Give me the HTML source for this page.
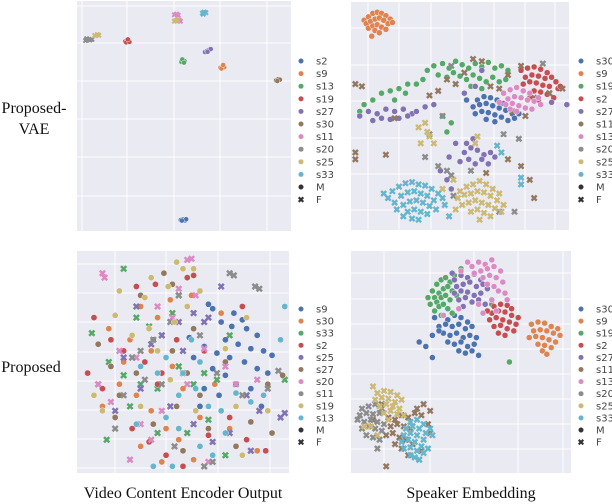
<!DOCTYPE html>
<html><head><meta charset="utf-8">
<style>
html,body{margin:0;padding:0;background:#fff;}
svg{display:block;}
.lbl{font-family:"Liberation Serif",serif;font-size:16px;fill:#111;}
.leg{font-family:"DejaVu Sans","Liberation Sans",sans-serif;font-size:10px;fill:#444;}
</style></head>
<body>
<svg id="chart" width="612" height="504" viewBox="0 0 612 504" xmlns="http://www.w3.org/2000/svg">
<text class="lbl" x="34" y="113" text-anchor="middle">Proposed-</text>
<text class="lbl" x="34" y="134" text-anchor="middle">VAE</text>
<text class="lbl" x="31" y="372" text-anchor="middle">Proposed</text>
<text class="lbl" x="183" y="498" text-anchor="middle">Video Content Encoder Output</text>
<text class="lbl" x="471" y="498" text-anchor="middle">Speaker Embedding</text>
</svg>
<script>
const colors = ['#4c72b0','#dd8452','#55a868','#c44e52','#8172b3','#937860','#da8bc3','#8c8c8c','#ccb974','#64b5cd'];

// ---- Panel TL: Proposed-VAE / video content
const tlSpeakers = ['s2','s9','s13','s19','s27','s30','s11','s20','s25','s33'];
const tlGender = ['M','M','M','M','M','M','F','F','F','F'];
const tlPoints = [
 [48.5,4.8,49.5,5.0,50.5,4.6,51,5.1,49,4.5],
 [67,71,68,71.8,68.8,71.2,67.5,70.6,68.3,72.2],
 [48.8,73.5,49.6,74.3,50.3,73.8,49.2,74.6,50,73.2],
 [22.5,82.4,23.3,83,24.2,82.8,23,82,24.5,82.2,23.8,83.3],
 [59.8,77.8,60.8,78.3,61.8,78.8,62.5,79.1,61,77.9],
 [93,65.5,94,66,94.8,65.8,93.6,65.2],
 [45.5,94,46.5,94.3,47.3,93.8,47.8,91.6,48.3,91.2],
 [4,82.8,5,83.2,6,83,7,83.3,4.5,83.6],
 [8.3,85,9.5,85.4,10.2,85.1,46.2,91.5,47,91.9,45.5,91.2],
 [58.6,94.7,59.4,95.2,60.2,94.9,59,94.3]
];

// ---- Panel TR: Proposed-VAE / speaker embedding
const trSpeakers = ['s30','s9','s19','s2','s27','s11','s13','s20','s25','s33'];
const trGender = ['M','M','M','M','M','F','M','F','F','F'];
const trPoints = [
 [58,57,61,58.5,64,58,67,57,70,55.5,56,54,59,55,62,55.5,65,54.5,68,53.5,71,52.5,74,51,57,51,60,52,63,51.5,66,50.5,69,49.5,72,48,62,48.5,66,47.5,75,49,77,51,53,57],
 [6,92,8,93.5,10,95,12,95.5,14,95,16,94,18,92.5,7,90.5,9,91.5,11,92.5,13,93,15,92,17,90.5,8,88.5,10,89.5,12,90,14,89,16,88,11,87.5,13,86.5,9.5,85,19,91],
 [35,70,38,72,42,73,45,71,48,74,51,72.5,54,71,57,73,60,71.5,63,73.5,66,71,69,72,72,70,40,68,44,67,47,69,50,67.5,53,66,56,68,59,66.5,62,65,65,67,68,65,71,66,55,63,60,62,33,66,30,64,26,64,22,62,18,61,14,60,10,57,6,55,4,52,20,57,25,60,42,50,46,47,44,43],
 [78,70,81,71,84,71.5,87,70.5,90,69,80,67,83,68,86,67.5,89,66.5,92,67,94,65,79,64,82,65,85,64.5,88,63.5,91,63,95,62,84,61,87,60.5,90,59.5,93,58,82,58,86,57,96,63],
 [4,50,8,52,12,51,16,53,20,52,24,53,28,51,10,48,14,49,18,48.5,22,49,26,50,30,52,34,54,38,55,52,34,55,36,58,35,61,33,64,34,66,32,50,30,54,31,57,29,60,31,63,29,53,38,56,40,48,38,45,32,41,26,44,22,46,18,60,70,57,63,52,60,99,55,92,56],
 [2,64,5,63,36,59,40,61,44,66,48,64,52,69,56,75,60,74,64,63,68,62,72,68,78,72,84,58,91,60,97,62,74,52,80,50,2,34,2,31,20,49,62,25,72,31,78,28,82,22,84,14,16,33],
 [70,60,73,61.5,76,62.5,79,61,82,60,72,57.5,75,58.5,78,58,81,57,84,56.5,87,55,71,55,74,55.5,77,54.5,80,53.5,76,52,83,53,68,56,86,58,73,53],
 [46,72,42,50,34,32,40,28,44,26,46,24,36,42,68,8,75,8,47,15,55,26,70,42,77,40,88,73],
 [50,17,53,19,56,20,59,21.5,62,20,65,18,68,16,49,14,52,15.5,55,16,58,17,61,16.5,64,15,67,13,70,11,51,11,54,12,57,13,60,12,63,11,66,9.5,69,8,55,8,58,9,61,7.5,64,6,59,4.5,48,9,31,45,34,47,36,41,38,38,32,38,35,43,42,18,47,22,57,38,58,41],
 [17,14,19,17,22,19,25,20.5,28,21,31,20,34,19.5,37,18,40,16,20,12,23,15,26,16.5,29,17,32,16,35,15,38,13,42,14,21,9,24,11,27,12.5,30,13,33,12,36,10.5,39,9,26,8,29,9,32,8,35,7,28,5,31,4.5,24,6,43,11,15,16,45,6,67,37,69,34,78,20,78,23]
];

// ---- Panel BL: Proposed / video content
const blSpeakers = ['s9','s30','s33','s2','s25','s27','s20','s11','s19','s13'];
const blGender = ['M','M','F','M','F','M','F','F','M','M'];
const blPoints = [
 [62,76,64,74,74,72,78,69,68,68,73,66,80,65,85,62,70,60,76,58,82,56,88,55,60,57,66,54,72,52,79,50,85,47,90,45,64,47,70,44,75,40,82,38,60,38,67,35,55,52,92,53,53,61,87,30,58,30],
 [30,75,38,70,44,78,54,80,15,65,25,60,35,55,45,48,20,40,28,35,12,30,35,28,42,20,30,12,48,15,58,25,65,40,72,20,85,10,55,6,40,5,68,72,50,38,22,50],
 [7,63,22,92,28,70,34,66,40,62,15,50,22,44,30,40,38,38,45,72,48,48,55,40,60,45,66,42,72,62,25,30,38,18,52,18,62,24,14,15,70,8,98,42,48,80],
 [28,84,37,85,52,88,55,89,8,70,16,60,22,55,32,50,40,45,5,45,12,38,26,20,34,14,42,8,50,3,62,17,72,25,80,15,60,55,47,60,38,40,78,75,89,10],
 [48,68,55,72,62,70,68,84,35,58,22,52,30,38,10,40,44,30,55,22,72,18,80,35,86,28,96,25,98,27,64,14,82,10,28,75,40,62,18,28,50,55,60,68],
 [41,90,45,85,30,80,10,58,16,48,20,35,28,45,36,60,45,55,52,45,58,35,62,20,75,12,82,23,90,40,97,44,55,65,47,30,36,22,18,25,70,50,92,18,50,10],
 [52,96,54,96.5,12,90,13,88,48,83,38,75,45,70,20,55,28,52,10,40,16,32,40,28,52,40,60,56,70,48,75,40,30,22,35,15,62,5,85,42,25,6,56,80],
 [72,90,74,89,84,84,86,83,48,80,44,68,36,60,30,55,26,52,22,35,32,42,40,40,50,45,58,62,66,45,78,35,90,38,46,12,60,3,64,5,18,20,95,46],
 [47,95,50,92,55,92,43,84,35,88,32,79,18,71,26,62,38,55,46,68,52,75,58,82,80,70,70,56,8,35,12,28,30,30,44,42,56,28,75,30,90,28,34,65,20,82,78,8],
 [50,45,58,50,54,60,42,52,38,45,48,35,56,38,62,30,68,28,75,36,82,32,88,35,28,22,42,25,48,20,58,12,64,8,36,3,45,3,70,18,96,60,98,75,30,48]
];

// ---- Panel BR: Proposed / speaker embedding
const brSpeakers = ['s30','s9','s19','s2','s27','s11','s13','s20','s25','s33'];
const brGender = ['M','M','M','M','M','F','M','F','F','F'];
const brPoints = [
 [38,70,41,71,44,69,47,71,50,70,53,68,40,66,43,67,46,66,49,67,52,65,55,66,42,63,45,62,48,63,51,61,54,62,57,61,44,59,47,58,50,59,53,57,56,58,49,55,52,54,55,55,58,53,34,57,37,62,31,59,37,52,40,64],
 [82,67,85,68,88,67.5,91,66,83,64,86,64.5,89,64,92,63,95,62,81,61,84,61.5,87,61,90,60,93,59,85,58,88,57.5,91,56.5,87,55,89,53.5,94,65],
 [37,82,39,85,41,87,43,88,45,86,47,89,38,79,40,81,42,83,44,84,46,82,36,76,39,77,41,79,43,80,45,78,38,73,40,75,42,76,44,74,46,72,41,71,48,80,35,79,50,92,64,76,72,50],
 [65,75,68,76,71,75.5,73,74,64,72,67,73,70,72.5,73,71,76,70,63,69,66,70,69,69,72,68,75,67,65,66,68,66.5,71,65,74,64,67,63,70,62,62,73],
 [47,87,50,89,53,88,56,89.5,59,87,48,84,51,85,54,86,57,84,60,85,62,83,47,81,50,82,53,81.5,56,80,59,81,49,78,52,79,55,77,58,78,61,76,51,75,46,90],
 [17,25,20,24,23,26,26,25,29,27,32,26,35,22,18,21,21,22,24,21,27,20,16,17,19,18,22,16,25,15,28,13,20,13,23,11,26,8,31,6,33,31,30,29,36,18,32,10,16,3,10,24,14,31,36,28],
 [55,93,58,95,61,94,64,96,56,90,59,91,62,92,65,93,68,91,60,88,63,89,66,88,69,86,62,85,65,84,67,82,70,81,58,76,64,78,60,72,66,73,71,78,53,95,50,91,42,71,49,74],
 [5,29,8,30,11,31,14,29,4,26,7,27,10,26.5,13,27,6,23,9,24,12,23,15,22,5,20,8,21,11,20,14,19,7,17,10,16,13,15,3,24,12,11],
 [12,36,15,37,18,36.5,21,35,11,33,14,34,17,33.5,20,32,23,33,13,30,16,31,19,30,22,29,15,27,18,28,21,26.5,17,24,24,26,9,21,12,17,6,21,10,39],
 [27,23,30,24,33,22,36,20,25,20,28,21,31,20,34,18,37,17,24,17,27,18,30,17,33,15,23,14,26,15,29,14,32,12,35,11,24,11,27,11.5,30,10,33,9,27,8,29,7,31,6]
];

const NS = 'http://www.w3.org/2000/svg';
const svg = document.getElementById('chart');
function mk(tag, attrs, parent){ const e=document.createElementNS(NS,tag); for(const k in attrs) e.setAttribute(k,attrs[k]); (parent||svg).appendChild(e); return e; }

function marker(g, cx, cy, color, gender, r){
  if(gender==='M'){
    return mk('circle',{cx:cx,cy:cy,r:r,fill:color,stroke:'#fff','stroke-width':0.4},g);
  } else {
    const s=r*0.85;
    return mk('path',{d:`M${cx-s},${cy-s}L${cx+s},${cy+s}M${cx-s},${cy+s}L${cx+s},${cy-s}`,stroke:color,'stroke-width':r*0.8,'stroke-linecap':'butt',fill:'none'},g);
  }
}

function panel(name, box, vgrid, hgrid, speakers, gender, points, legX, legY, legStep, mr){
  const g = mk('g',{});
  
  
  const bg = mk('rect',{x:box.x,y:box.y,width:box.w,height:box.h,fill:'#eaeaf2'},g);
  
  
  const xs = v => box.x + v/100*box.w;
  const ys = v => box.y + box.h - v/100*box.h;
  vgrid.forEach(px=>{ const l=mk('line',{x1:px,x2:px,y1:box.y,y2:box.y+box.h,stroke:'#fff','stroke-width':1},g);
      });
  hgrid.forEach(py=>{ const l=mk('line',{x1:box.x,x2:box.x+box.w,y1:py,y2:py,stroke:'#fff','stroke-width':1},g);
      });
  const pts = mk('g',{},g);
  
  
  points.forEach((arr,si)=>{
    for(let i=0;i<arr.length;i+=2){
      const m = marker(pts, xs(arr[i]), ys(arr[i+1]), colors[si], gender[si], mr);
      
      
    }
  });
  const lg = mk('g',{},g);
  
  
  const entries = speakers.map((s,i)=>({label:s,color:colors[i],g:'M'})).concat([{label:'M',color:'#333',g:'M'},{label:'F',color:'#333',g:'F'}]);
  entries.forEach((e,i)=>{
    const y = legY + i*legStep;
    const m = marker(lg, legX, y, e.color, e.g, 2.7);
    
    
    const t = mk('text',{x:legX+15,y:y+3.5,class:'leg'},lg);
    t.textContent = e.label;
    
    
  });
}

panel('panel-vae-video', {x:77,y:1,w:214,h:230}, [82,127,174,220,267], [6,43,81,119,157,196], tlSpeakers, tlGender, tlPoints, 301, 61, 12.6, 2.5);
panel('panel-vae-speaker', {x:351,y:2,w:218,h:228}, [368,399,431,462,494,525,555], [28,65,101,138,174,210], trSpeakers, trGender, trPoints, 581, 61, 12.6, 3.0);
panel('panel-proposed-video', {x:77,y:251,w:212,h:222}, [115,166,218,270], [264,293,322,352,381,410,439,468], blSpeakers, blGender, blPoints, 301, 309, 12.1, 3.1);
panel('panel-proposed-speaker', {x:351,y:251,w:220,h:222}, [384,430,474,518,563], [273,299,324,349,374,399,424,449], brSpeakers, brGender, brPoints, 581, 309, 12.1, 3.0);
</script>
</body></html>
